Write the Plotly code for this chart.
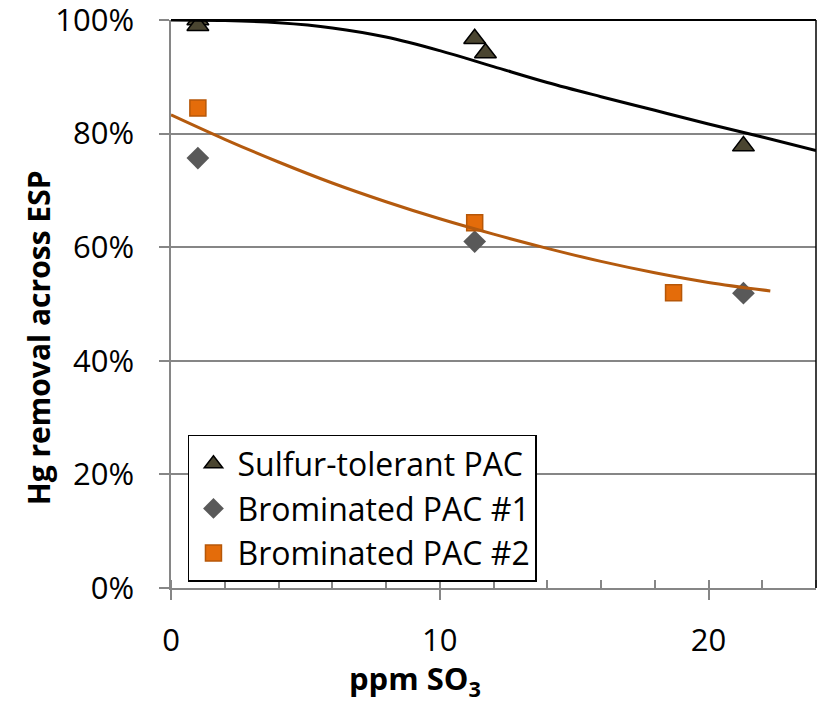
import plotly.graph_objects as go

# ---- data ----
sulfur_x = [1.0, 1.0, 11.3, 11.7, 21.3]
sulfur_y = [1.00, 0.99, 0.967, 0.942, 0.778]

brom1_x = [1.0, 11.3, 21.3]
brom1_y = [0.757, 0.610, 0.519]

brom2_x = [1.0, 11.3, 18.7]
brom2_y = [0.845, 0.643, 0.520]

# trend lines
trend_s_x = [0, 2, 4, 6, 8, 10, 12, 14, 16, 18, 20, 22, 24]
trend_s_y = [1.000, 0.999, 0.995, 0.986, 0.970, 0.946, 0.918, 0.890, 0.865, 0.841, 0.817, 0.794, 0.770]

trend_b_x = [0, 2, 4, 6, 8, 10, 12, 14, 16, 18, 20, 22.3]
trend_b_y = [0.833, 0.790, 0.750, 0.713, 0.680, 0.650, 0.623, 0.598, 0.575, 0.555, 0.538, 0.523]

x_ticks = [0, 10, 20]
y_ticks = [0, 0.2, 0.4, 0.6, 0.8, 1.0]
y_tick_text = ["0%", "20%", "40%", "60%", "80%", "100%"]

x_title = "ppm SO<sub>3</sub>"
y_title = "Hg removal across ESP"

FONT = "Open Sans"

fig = go.Figure()

fig.add_trace(go.Scatter(
    x=sulfur_x, y=sulfur_y, mode="markers", name="Sulfur-tolerant PAC",
    marker=dict(symbol="triangle-up", size=19, color="#4a4530",
                line=dict(color="#000000", width=1.5)),
))
fig.add_trace(go.Scatter(
    x=brom1_x, y=brom1_y, mode="markers", name="Brominated PAC #1",
    marker=dict(symbol="diamond", size=17.5, color="#595959",
                line=dict(color="#595959", width=0)),
))
fig.add_trace(go.Scatter(
    x=brom2_x, y=brom2_y, mode="markers", name="Brominated PAC #2",
    marker=dict(symbol="square", size=16, color="#E46C0A",
                line=dict(color="#B65708", width=1.5)),
))
fig.add_trace(go.Scatter(
    x=trend_s_x, y=trend_s_y, mode="lines", showlegend=False,
    line=dict(color="#000000", width=3, shape="spline"), hoverinfo="skip",
))
fig.add_trace(go.Scatter(
    x=trend_b_x, y=trend_b_y, mode="lines", showlegend=False,
    line=dict(color="#B45A0E", width=3, shape="spline"), hoverinfo="skip",
))

# the page body adds an 8px margin, so the figure is offset by 8px
fig.update_layout(
    width=809, height=693,
    margin=dict(l=163, r=1, t=12, b=113, autoexpand=False),
    paper_bgcolor="white", plot_bgcolor="white",
    font=dict(family=FONT, size=31, color="black"),
    legend=dict(
        x=0.0263, y=0.2694, xanchor="left", yanchor="top",
        bgcolor="white", bordercolor="black", borderwidth=1.5,
        font=dict(family=FONT, size=32, color="black"),
        itemwidth=38, tracegroupgap=0,
    ),
    shapes=[
        dict(type="line", xref="paper", yref="paper", x0=0, x1=1, y0=1, y1=1,
             line=dict(color="black", width=2)),
        dict(type="line", xref="paper", yref="paper", x0=1, x1=1, y0=0, y1=1,
             line=dict(color="black", width=1.5)),
    ],
    annotations=[
        dict(text=x_title, xref="paper", yref="paper", x=0.378, y=-0.162,
             xanchor="center", yanchor="middle", showarrow=False,
             font=dict(family=FONT, size=31, weight="bold")),
        dict(text=y_title, xref="paper", yref="paper", x=-0.206, y=0.44,
             xanchor="center", yanchor="middle", showarrow=False, textangle=-90,
             font=dict(family=FONT, size=30, weight="bold")),
    ],
)

fig.update_xaxes(
    range=[0, 24], tickvals=x_ticks, ticks="outside", ticklen=10,
    tickcolor="#868686", tickwidth=1.5, showline=True, linecolor="#868686",
    linewidth=1.5, showgrid=False, zeroline=False, automargin=False,
    tickfont=dict(family=FONT, size=31), ticklabelstandoff=14,
    ticklabeloverflow="allow",
    minor=dict(dtick=2, ticks="inside", ticklen=8, tickcolor="#868686",
               tickwidth=1.5, showgrid=False),
)
fig.update_yaxes(
    range=[0, 1], tickvals=y_ticks, ticktext=y_tick_text, ticks="outside", ticklen=10,
    tickcolor="#868686", tickwidth=1.5, showline=True, linecolor="#868686",
    linewidth=1.5, showgrid=True, gridcolor="#868686", gridwidth=1.5,
    zeroline=False, automargin=False, tickfont=dict(family=FONT, size=31),
    ticklabelstandoff=19, ticklabeloverflow="allow",
)

fig.write_html("out.html")
